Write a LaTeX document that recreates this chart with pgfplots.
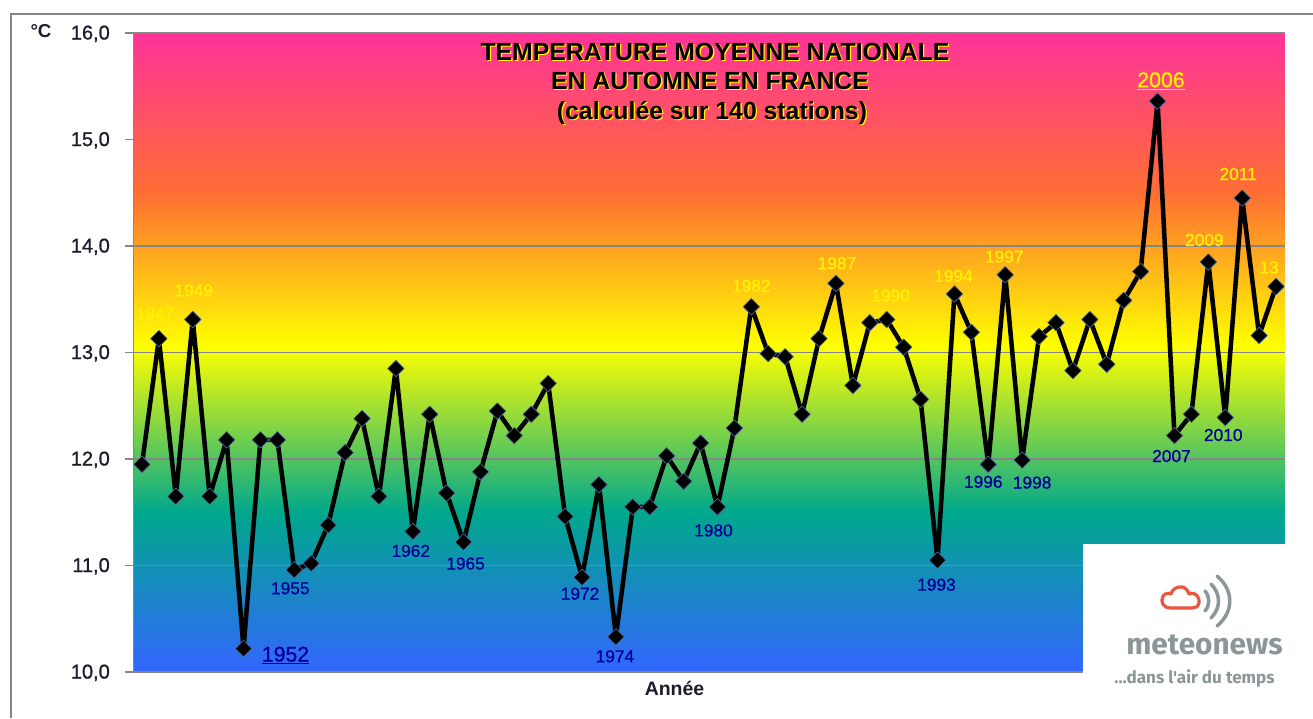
\documentclass[border=0pt]{standalone}
\usepackage{fontspec}
\setmainfont{Liberation Sans}
\newfontfamily\semibold[FakeBold=0.9]{Liberation Sans}
\newfontfamily\logofont{Fira Sans}
\usepackage{pgfplots}
\usepackage{pgfplotstable}
\pgfplotsset{compat=1.18}

\definecolor{gridgray}{HTML}{868686}
\definecolor{ticktext}{HTML}{1C1C2C}
\definecolor{lowblue}{HTML}{000099}
\definecolor{logogray}{HTML}{8C9698}
\definecolor{logored}{HTML}{E9573F}
\definecolor{markedge}{HTML}{4A6A9A}

% fond : 25bp-75bp = hauteur du cadre
\pgfdeclareverticalshading{tempbg}{100bp}{
  color(0bp)=(rgb,255:red,51;green,102;blue,255);
  color(25bp)=(rgb,255:red,51;green,102;blue,255);
  color(37.5bp)=(rgb,255:red,0;green,168;blue,140);
  color(50.5bp)=(rgb,255:red,255;green,255;blue,0);
  color(62.5bp)=(rgb,255:red,255;green,110;blue,51);
  color(75bp)=(rgb,255:red,255;green,51;blue,153);
  color(100bp)=(rgb,255:red,255;green,51;blue,153)
}

\pgfplotstableread{
annee temp
1946 11.95
1947 13.13
1948 11.65
1949 13.31
1950 11.65
1951 12.18
1952 10.22
1953 12.18
1954 12.18
1955 10.96
1956 11.02
1957 11.38
1958 12.06
1959 12.38
1960 11.65
1961 12.85
1962 11.32
1963 12.42
1964 11.68
1965 11.22
1966 11.88
1967 12.45
1968 12.22
1969 12.42
1970 12.71
1971 11.46
1972 10.89
1973 11.76
1974 10.33
1975 11.55
1976 11.55
1977 12.03
1978 11.79
1979 12.15
1980 11.55
1981 12.29
1982 13.43
1983 12.99
1984 12.96
1985 12.42
1986 13.13
1987 13.65
1988 12.69
1989 13.28
1990 13.31
1991 13.05
1992 12.56
1993 11.05
1994 13.55
1995 13.19
1996 11.95
1997 13.73
1998 11.99
1999 13.15
2000 13.28
2001 12.83
2002 13.31
2003 12.89
2004 13.49
2005 13.76
2006 15.36
2007 12.22
2008 12.42
2009 13.85
2010 12.39
2011 14.45
2012 13.16
2013 13.62
}\temperatures

% annee, valeur, decalage x et y en pixels, texte
\newcommand{\hot}[5]{\node[text=yellow,font=\semibold\fontsize{13}{13}\selectfont,xshift=#3*0.75pt,yshift=#4*0.75pt]
  at (axis cs:#1,#2) {#5};}
\newcommand{\cold}[5]{\node[text=lowblue,font=\semibold\fontsize{13}{13}\selectfont,xshift=#3*0.75pt,yshift=#4*0.75pt]
  at (axis cs:#1,#2) {#5};}

\begin{document}
\begin{tikzpicture}[x=0.75pt,y=-0.75pt]
\useasboundingbox (0,0) rectangle (1313,718);
\draw[gridgray,line width=1.1pt] (11,718) -- (11,14) -- (1313,14);
\begin{axis}[
    at={(100.125pt,-504pt)},
    anchor=south west,
    scale only axis,
    width=863.25pt,
    height=479.25pt,
    xmin=1945.5, xmax=2013.5,
    ymin=10, ymax=16,
    clip=false,
    axis background/.style={shading=tempbg},
    axis x line*=bottom,
    axis y line*=left,
    axis line style={gridgray,line width=1pt,-},
    xtick=\empty,
    ytick={10,11,12,13,14,15,16},
    tick align=outside,
    major tick length=6.75pt,
    tick style={gridgray,line width=0.8pt},
    ymajorgrids,
    grid style={gridgray,line width=0.8pt},
    /pgf/number format/.cd,fixed,fixed zerofill,precision=1,use comma,assume math mode=true,
    /pgfplots/.cd,
    yticklabel style={font=\semibold\fontsize{15}{15}\selectfont,text=ticktext,xshift=-7.5pt,yshift=-0.6pt},
]
\addplot[black,line width=3.4pt,line join=round,
    mark=square*,mark size=4.4pt,
    mark options={rotate=45,draw=markedge,fill=black,line width=0.5pt,solid}]
    table[x=annee,y=temp] {\temperatures};

\hot{1947}{13.13}{-4}{25}{1947}
\hot{1949}{13.31}{1}{29}{1949}
\hot{1982}{13.43}{0}{21}{1982}
\hot{1987}{13.65}{1}{20}{1987}
\hot{1990}{13.31}{4}{24}{1990}
\hot{1994}{13.55}{-1}{18}{1994}
\hot{1997}{13.73}{-1}{18}{1997}
\hot{2009}{13.85}{-4}{22}{2009}
\hot{2011}{14.45}{-4}{24}{2011}
\hot{2013}{13.62}{-7}{19}{13}
\node[text=yellow,font=\semibold\fontsize{16}{16}\selectfont,xshift=2.6pt,yshift=15pt]
    at (axis cs:2006,15.36) {\underline{2006}};

\node[text=lowblue,font=\semibold\fontsize{16}{16}\selectfont,xshift=31.5pt,yshift=-5.25pt]
    at (axis cs:1952,10.22) {\underline{1952}};
\cold{1955}{10.96}{-4}{-18.5}{1955}
\cold{1962}{11.32}{-2}{-19.5}{1962}
\cold{1965}{11.22}{2}{-21.5}{1965}
\cold{1972}{10.89}{-2}{-16.5}{1972}
\cold{1974}{10.33}{-1}{-19.5}{1974}
\cold{1980}{11.55}{-4}{-23.5}{1980}
\cold{1993}{11.05}{-1}{-24.5}{1993}
\cold{1996}{11.95}{-5}{-17.5}{1996}
\cold{1998}{11.99}{10}{-22.5}{1998}
\cold{2007}{12.22}{-3}{-20.5}{2007}
\cold{2010}{12.39}{-2}{-17.5}{2010}
\end{axis}

% titre avec ombre jaune
\foreach \dx/\dy/\col in {1.3/1.3/yellow,0/0/black}{
  \begin{scope}[every node/.style={text=\col,font=\bfseries\fontsize{18.6}{18.6}\selectfont}]
  \node at (715+\dx,52+\dy) {TEMPERATURE MOYENNE NATIONALE};
  \node at (710+\dx,81+\dy) {EN AUTOMNE EN FRANCE};
  \node at (712+\dx,112.5+\dy) {(calculée sur 140 stations)};
  \end{scope}
}

\node[text=ticktext,font=\bfseries\fontsize{14}{14}\selectfont] at (41,31) {°C};
\node[text=ticktext,font=\bfseries\fontsize{14.6}{14.6}\selectfont] at (674.5,688) {Année};

% cartouche meteonews
\fill[white] (1083,544) rectangle (1286,675);
\draw[logored,line width=2.4pt,line join=round]
  (1171,608) .. controls (1163,608) and (1160,602) .. (1163,596)
  .. controls (1165,593) and (1169,593) .. (1171,594)
  .. controls (1173,586) and (1186,583) .. (1189,594)
  .. controls (1196,591) and (1200,598) .. (1199,603)
  .. controls (1198,607) and (1195,608) .. (1192,608) -- cycle;
\draw[logogray,line width=2.6pt,line cap=round]
  (1205,591) .. controls (1210,597) and (1210,605) .. (1205,611);
\draw[logogray,line width=2.6pt,line cap=round]
  (1211,584) .. controls (1221,594) and (1221,608) .. (1211,618);
\draw[logogray,line width=2.6pt,line cap=round]
  (1217,576) .. controls (1234,590) and (1234,612) .. (1217,626);
\node[text=logogray,font=\logofont\bfseries\fontsize{22.3}{22.3}\selectfont] at (1204.5,645) {meteonews};
\node[text=logogray,font=\logofont\bfseries\fontsize{12.8}{12.8}\selectfont] at (1194.5,678) {...dans l'air du temps};
\end{tikzpicture}
\end{document}
